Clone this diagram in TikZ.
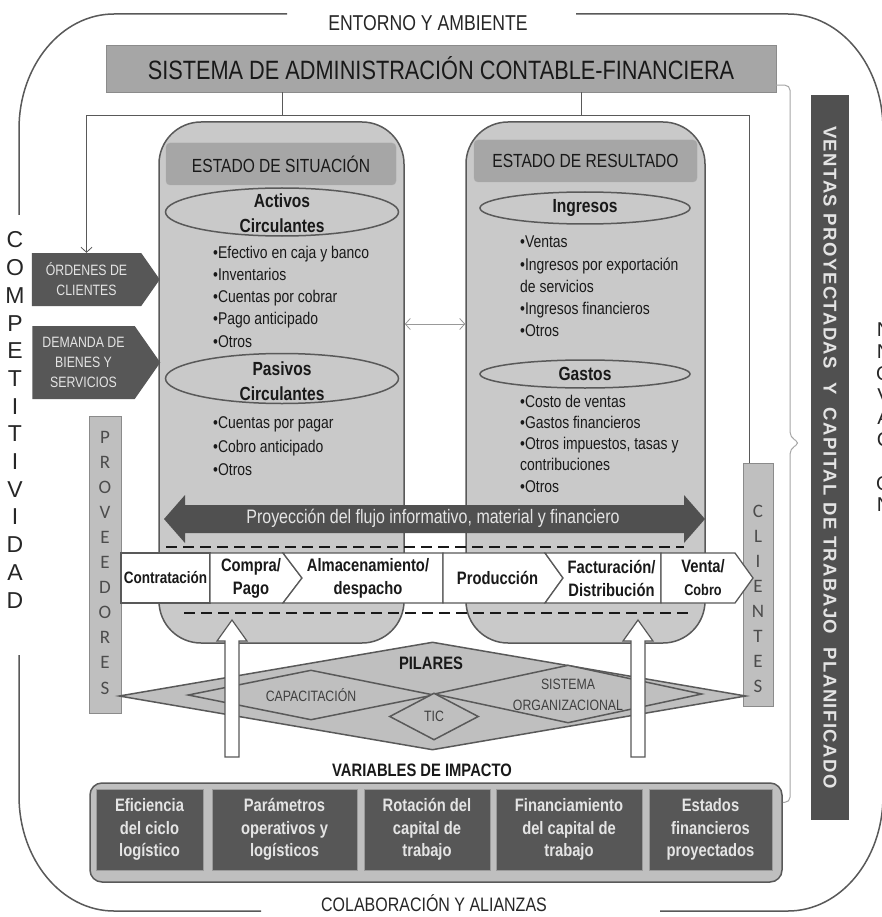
\documentclass[tikz,border=0pt]{standalone}
\usepackage{fontspec}
\setmainfont{Liberation Sans}[FakeStretch=0.82]
\newfontfamily\widefont{Liberation Sans}
\newfontfamily\ventafont{Liberation Sans}[LetterSpace=8]
\newfontfamily\calfont{Carlito}
\usetikzlibrary{positioning, shapes.geometric, shapes.symbols, arrows.meta, calc}

\newcommand{\fsz}[2]{\fontsize{#1}{#2}\selectfont}
\definecolor{edgegray}{HTML}{595959}
\definecolor{darkbox}{HTML}{575757}
\definecolor{flowgray}{HTML}{505050}
\definecolor{midgray}{HTML}{A6A6A6}
\definecolor{panelgray}{HTML}{C9C9C9}
\definecolor{pillgray}{HTML}{BFBFBF}
\definecolor{palegray}{HTML}{E4E4E4}

\begin{document}
\begin{tikzpicture}[x=1pt, y=-1pt, every node/.style={inner sep=0pt, text=black!90},
  border/.style={draw=edgegray, line width=1.5pt},
  frame text/.style={font=\fsz{19.5}{22}, text=black!85},
  side letters/.style={align=center, font=\widefont\fsz{23}{27.7}, text=black!85},
  title/.style={draw=edgegray!70, fill=midgray, minimum width=670pt, minimum height=47pt, font=\fsz{26.5}{30}},
  panel/.style={draw=edgegray, line width=1.5pt, fill=panelgray, rounded corners=42pt, minimum height=521pt},
  header/.style={draw=edgegray!50, fill=midgray, rounded corners=4pt, minimum height=42pt, font=\fsz{19}{22}},
  oval/.style={ellipse, draw=edgegray, line width=1.5pt},
  oval text/.style={align=center, font=\bfseries\fsz{19}{25}},
  items/.style={anchor=west, align=left, font=\fsz{17}{#1}},
  items/.default=22.25,
  tag/.style={signal, signal to=east, signal pointer angle=110, fill=darkbox, text=palegray, align=center, minimum width=128pt, font=\fsz{15}{20}},
  sidebox/.style={draw=edgegray!70, fill=pillgray},
  side text/.style={align=center, font=\calfont\fsz{19}{25.1}, text=black!70},
  stepbox/.style={draw=edgegray, line width=1.3pt, fill=white},
  step text/.style={align=center, font=\bfseries\fsz{18}{23}},
  dashline/.style={draw=black!90, line width=2.2pt, dash pattern=on 11pt off 6pt},
  pillar/.style={diamond, draw=edgegray, line width=1.5pt, fill=pillgray},
  pillar text/.style={align=center, font=\fsz{15}{21}, text=black!75},
  bold label/.style={font=\bfseries\fsz{18}{22}},
  hollow/.style={draw=edgegray, line width=1.2pt, fill=white},
  varframe/.style={draw=edgegray, line width=1.5pt, fill=pillgray, rounded corners=12pt},
  varbox/.style={draw=edgegray!60, fill=darkbox, text=palegray, align=center, minimum height=81pt, font=\bfseries\fsz{18}{22.5}},
  link/.style={draw=edgegray, line width=0.8pt},
  brace/.style={draw=black!35, line width=1pt, rounded corners=5pt},
  >={Straight Barb[length=5pt, width=11pt]}
]
\useasboundingbox (0,0) rectangle (881,917);
\fill[white] (0,0) rectangle (881,917);

% Outer frame
\draw[border] (287,14) -- (114,14) .. controls (61.6,14) and (19,65.5) .. (19,129) -- (19,215);
\draw[border] (19,655) -- (19,796) .. controls (19,859.5) and (61.6,911) .. (114,911) -- (261,911);
\draw[border] (660,911) -- (788,911) .. controls (840.4,911) and (883,859.5) .. (883,796) -- (883,525);
\draw[border] (883,290) -- (883,129) .. controls (883,65.5) and (840.4,14) .. (788,14) -- (576,14);
\node[frame text, font=\fsz{21.5}{22}] (env) at (428,23) {ENTORNO Y AMBIENTE};
\node[frame text] (colab) at (434,903) {COLABORACIÓN Y ALIANZAS};
\node[side letters] (comp) at (15,420) {C\\O\\M\\P\\E\\T\\I\\T\\I\\V\\I\\D\\A\\D};
\node[side letters, font=\widefont\fsz{20}{21.9}] (inno) at (884,406.5) {I\\N\\N\\O\\V\\A\\C\\I\\Ó\\N};

% Accounting system
\node[title] (sac) at (441,68.5) {SISTEMA DE ADMINISTRACIÓN CONTABLE-FINANCIERA};
\coordinate (ftop) at (0,115);
\coordinate (t1) at (282,115);
\coordinate (t2) at (581,115);
\draw[link] (sac.south -| t1) -- (t1);
\draw[link] (sac.south -| t2) -- (t2);

% Statements
\node[panel, minimum width=245pt] (sit) at (281.5,382.5) {};
\node[panel, minimum width=239pt] (res) at (585.5,382.5) {};
\node[header, minimum width=230pt] (sith) at (281,164) {ESTADO DE SITUACIÓN};
\node[header, minimum width=223pt] (resh) at (585.5,161) {ESTADO DE RESULTADO};

\node[oval, minimum width=233pt, minimum height=48pt] (act) at (282,212) {};
\node[oval text] (actt) at (282,213) {Activos\\Circulantes};
\node[items] (actl) at (213,296.5) {•Efectivo en caja y banco\\•Inventarios\\•Cuentas por cobrar\\•Pago anticipado\\•Otros};
\node[oval, minimum width=233pt, minimum height=50pt] (pas) at (282,378.5) {};
\node[oval text] (past) at (282,381) {Pasivos\\Circulantes};
\node[items=23.5] (pasl) at (213,446.5) {•Cuentas por pagar\\•Cobro anticipado\\•Otros};

\node[oval, minimum width=210pt, minimum height=32pt] (ing) at (585,208) {};
\node[oval text] (ingt) at (ing) {Ingresos};
\node[items] (ingl) at (520,286.5) {•Ventas\\•Ingresos por exportación\\de servicios\\•Ingresos financieros\\•Otros};
\node[oval, minimum width=210pt, minimum height=28pt] (gas) at (585,374) {};
\node[oval text] (gast) at (gas) {Gastos};
\node[items=21.25] (gasl) at (520,443.5) {•Costo de ventas\\•Gastos financieros\\•Otros impuestos, tasas y\\contribuciones\\•Otros};

\coordinate (mid) at (0,324);
\draw[link, draw=black!40, <->] (sit.east |- mid) -- (res.west |- mid);

% Demand and side boxes
\node[tag, minimum height=53pt] (ord) at (86.5,279.5) {ÓRDENES DE\\CLIENTES};
\node[tag, minimum height=73pt] (dem) at (83.5,362.5) {DEMANDA DE\\BIENES Y\\SERVICIOS};
\node[sidebox, minimum width=32pt, minimum height=297pt] (prov) at (105,564.5) {};
\node[side text] (provt) at (105,562.5) {P\\R\\O\\V\\E\\E\\D\\O\\R\\E\\S};
\node[sidebox, minimum width=30pt, minimum height=243pt] (cli) at (758,584.5) {};
\node[side text] (clit) at (758,599) {C\\L\\I\\E\\N\\T\\E\\S};

\coordinate (oin) at (ord.north);
\coordinate (cin) at ([xshift=-9pt]cli.north);
\draw[link, ->] (cin) -- (cin |- ftop) -- (oin |- ftop) -- (oin);

% Flow arrow
\fill[flowgray] (164,519) -- (185,495) -- (185,505) -- (684,505) -- (684,495) -- (705,519) -- (684,543) -- (684,533) -- (185,533) -- (185,543) -- cycle;
\node[font=\fsz{19.5}{20}, text=palegray] (proy) at (433,518) {Proyección del flujo informativo, material y financiero};
\draw[dashline] (166,547) -- (684,547);
\draw[dashline] (184,613) -- (693,613);

% Logistic chain
\draw[stepbox] (121,553) rectangle (210,603);
\draw[stepbox] (210,553) -- (283,553) -- (302,578) -- (283,603) -- (210,603) -- cycle;
\draw[stepbox] (283,553) -- (443,553) -- (443,603) -- (283,603) -- (302,578) -- cycle;
\draw[stepbox] (443,553) -- (545,553) -- (563,578) -- (545,603) -- (443,603) -- cycle;
\draw[stepbox] (545,553) -- (661,553) -- (661,603) -- (545,603) -- (563,578) -- cycle;
\draw[stepbox] (661,553) -- (735,553) -- (753,578) -- (735,603) -- (661,603) -- cycle;
\node[step text, font=\bfseries\fsz{16.5}{23}] (con) at (165.5,578) {Contratación};
\node[step text] (com) at (251,578) {Compra/\\Pago};
\node[step text] (alm) at (368,578) {Almacenamiento/\\despacho};
\node[step text] (pro) at (497.5,578) {Producción};
\node[step text] (fac) at (611.5,578) {Facturación/\\Distribución};
\node[step text] (ven) at (703,578) {Venta/\\{\fsz{15.5}{23}Cobro}};

% Pillars
\node[pillar, minimum width=627pt, minimum height=108pt] (pil) at (432.5,696) {};
\node[bold label] (pilt) at (431,663) {PILARES};
\node[pillar, minimum width=246pt, minimum height=50pt] (cap) at (311,695) {};
\node[pillar text] (capt) at (cap) {CAPACITACIÓN};
\node[pillar, minimum width=268pt, minimum height=58pt] (org) at (568,694) {};
\node[pillar text] (orgt) at (568,695) {SISTEMA\\ORGANIZACIONAL};
\node[pillar, minimum width=89pt, minimum height=47pt] (tic) at (434,716.5) {};
\node[pillar text] (tict) at (tic) {TIC};

\foreach \ax in {232,638}
  \draw[hollow] (\ax-7,757) -- (\ax-7,641) -- (\ax-15,641) -- (\ax,620) -- (\ax+15,641) -- (\ax+7,641) -- (\ax+7,757) -- cycle;

% Impact variables
\node[bold label] (vlab) at (422,770) {VARIABLES DE IMPACTO};
\node[varframe, minimum width=692pt, minimum height=99pt] (vars) at (436,832.5) {};
\node[varbox, minimum width=107pt] (v1) at (149.5,829.5) {Eficiencia\\del ciclo\\logístico};
\node[varbox, minimum width=145pt] (v2) at (284.5,829.5) {Parámetros\\operativos y\\logísticos};
\node[varbox, minimum width=126pt] (v3) at (427,829.5) {Rotación del\\capital de\\trabajo};
\node[varbox, minimum width=146pt] (v4) at (569,829.5) {Financiamiento\\del capital de\\trabajo};
\node[varbox, minimum width=123pt] (v5) at (710.5,829.5) {Estados\\financieros\\proyectados};

% Planned sales
\draw[brace] ([yshift=7pt]sac.south east) -| (790,437) -- (800,443) -- (790,449) |- ([yshift=-20pt]vars.north east);
\node[fill=flowgray, rotate=-90, minimum width=725pt, minimum height=38pt, text=palegray, font=\ventafont\bfseries\fsz{18.5}{20}] (vpc) at (830,457.5) {VENTAS PROYECTADAS\ \ Y\ \ CAPITAL DE TRABAJO\ \ PLANIFICADO};

\end{tikzpicture}
\end{document}
